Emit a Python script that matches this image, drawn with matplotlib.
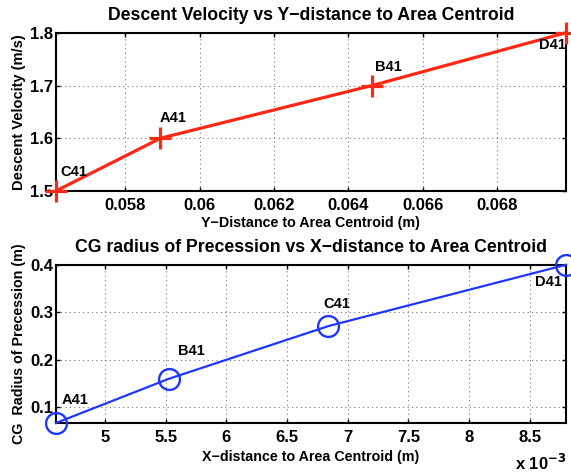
import matplotlib
matplotlib.use("Agg")
import matplotlib.pyplot as plt
from matplotlib.ticker import FuncFormatter, MultipleLocator

plt.rcParams['font.family'] = ['Liberation Sans', 'DejaVu Sans']
plt.rcParams['font.weight'] = 'bold'

# Top chart data
top_names = ["C41", "A41", "B41", "D41"]
top_x = [0.05614, 0.05895, 0.06464, 0.06985]
top_y = [1.5, 1.6, 1.7, 1.8]

# Bottom chart data
bot_names = ["A41", "B41", "C41", "D41"]
bot_x = [0.004594, 0.005524, 0.00684, 0.008798]
bot_y = [0.067, 0.16, 0.271, 0.40]

# label offsets (points)
top_off = [(3, 13.7, 'left'), (-0.7, 14.4, 'left'), (1.8, 13, 'left'), (0, -8.6, 'right')]
bot_off = [(4, 16.5, 'left'), (6.5, 20, 'left'), (-3.6, 15.8, 'left'), (-2.9, -12.2, 'right')]

red = '#ff2814'
blue = '#1e37ff'

fig = plt.figure(figsize=(5.71, 4.75), dpi=100)
ax1 = fig.add_axes([0.098, 0.598, 0.893, 0.333])
ax2 = fig.add_axes([0.098, 0.1095, 0.893, 0.333])

def style(ax):
    for s in ax.spines.values():
        s.set_linewidth(1.5)
    ax.tick_params(direction='in', top=True, right=True, length=3, width=1,
                   labelsize=12)
    ax.tick_params(axis='x', pad=5)
    ax.tick_params(axis='y', pad=2)
    for lab in ax.get_xticklabels() + ax.get_yticklabels():
        lab.set_fontweight('bold')
    ax.grid(True, linestyle=(0, (1, 3)), color='#777777', linewidth=0.8)

def add_labels(ax, names, xs, ys, offs):
    for n, x, y, (dx, dy, ha) in zip(names, xs, ys, offs):
        ax.annotate(n, (x, y), xytext=(dx, dy), textcoords='offset points',
                    ha=ha, va='center', fontsize=10.5, fontweight='bold')

# Top
ax1.plot(top_x, top_y, color=red, linewidth=2.3, marker='+', markersize=16,
         markeredgewidth=2.3, clip_on=False, zorder=3)
ax1.set_xlim(min(top_x), max(top_x))
ax1.set_ylim(min(top_y), max(top_y))
ax1.xaxis.set_major_locator(MultipleLocator(0.002))
ax1.yaxis.set_major_locator(MultipleLocator(0.1))
ax1.xaxis.set_major_formatter(FuncFormatter(lambda v, p: ('%.3f' % v).rstrip('0')))
ax1.yaxis.set_major_formatter(FuncFormatter(lambda v, p: '%.1f' % v))
style(ax1)
ax1.set_title("Descent Velocity vs Y\u2212distance to Area Centroid",
              fontsize=12.7, fontweight='bold', pad=9)
ax1.set_xlabel("Y\u2212Distance to Area Centroid (m)", fontsize=10.3, fontweight='bold', labelpad=2.5)
ax1.set_ylabel("Descent Velocity (m/s)", fontsize=10.5, fontweight='bold', labelpad=3)
add_labels(ax1, top_names, top_x, top_y, top_off)

# Bottom
ax2.plot(bot_x, bot_y, color=blue, linewidth=1.6, marker='o', markersize=15,
         markerfacecolor='none', markeredgewidth=1.7, clip_on=False, zorder=3)
ax2.set_xlim(min(bot_x), max(bot_x))
ax2.set_ylim(min(bot_y), max(bot_y))
ax2.xaxis.set_major_locator(MultipleLocator(0.0005))
ax2.yaxis.set_major_locator(MultipleLocator(0.1))
ax2.xaxis.set_major_formatter(FuncFormatter(lambda v, p: ('%.1f' % (v * 1e3)).rstrip('0').rstrip('.')))
ax2.yaxis.set_major_formatter(FuncFormatter(lambda v, p: '%.1f' % v))
style(ax2)
ax2.tick_params(axis='x', pad=5)
ax2.set_title("CG radius of Precession vs X\u2212distance to Area Centroid",
              fontsize=12.7, fontweight='bold', pad=9)
ax2.set_xlabel("X\u2212distance to Area Centroid (m)", fontsize=10.3, fontweight='bold', labelpad=3.5)
ax2.set_ylabel("CG  Radius of Precession (m)", fontsize=10.3, fontweight='bold', labelpad=3)
add_labels(ax2, bot_names, bot_x, bot_y, bot_off)
fig.text(566 / 571, 1 - 453 / 475, r"x 10$^{-3}$", ha='right', va='top',
         fontsize=12, fontweight='bold')

fig.savefig("out.png", dpi=100)
